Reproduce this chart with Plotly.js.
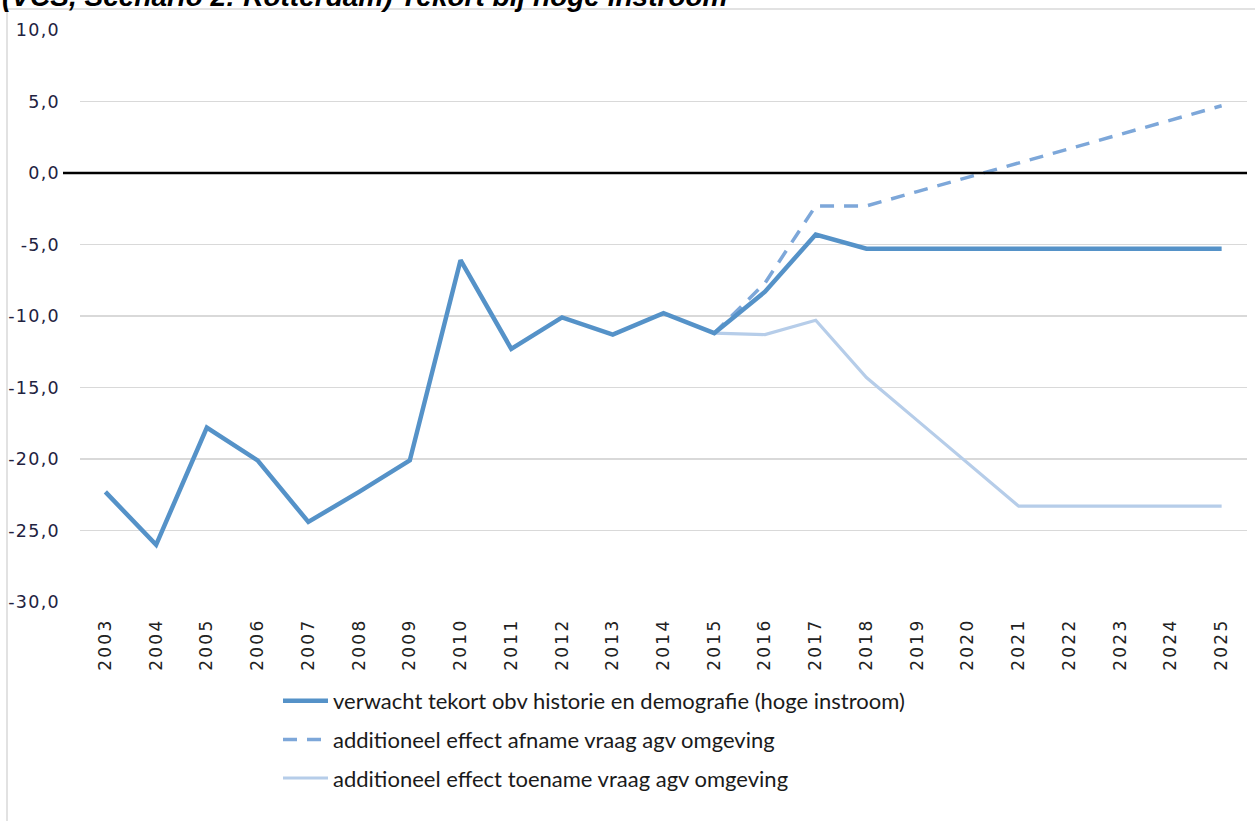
<!DOCTYPE html>
<html>
<head>
<meta charset="utf-8">
<script src="https://cdn.plot.ly/plotly-3.0.1.min.js"></script>
<style>
  html, body { margin: 0; padding: 0; background: #fff; }
  #chart { width: 1255px; height: 821px; }
  .ytick text { letter-spacing: 1.3px; }
  .xtick text { letter-spacing: 2.3px; }
</style>
</head>
<body>
<div id="chart"></div>
<script>
// Categories (years)
const years = ['2003','2004','2005','2006','2007','2008','2009','2010','2011','2012','2013','2014',
               '2015','2016','2017','2018','2019','2020','2021','2022','2023','2024','2025'];

// Series values (null where the series is not drawn)
const verwachtTekort = [-22.3, -26.0, -17.8, -20.1, -24.4, -22.3, -20.1, -6.1, -12.3, -10.1, -11.3, -9.8,
                        -11.2, -8.3, -4.3, -5.3, -5.3, -5.3, -5.3, -5.3, -5.3, -5.3, -5.3];
const afnameVraag = [null, null, null, null, null, null, null, null, null, null, null, null,
                     -11.2, -7.7, -2.3, -2.3, -1.3, -0.3, 0.7, 1.7, 2.7, 3.7, 4.7];
const toenameVraag = [null, null, null, null, null, null, null, null, null, null, null, null,
                      -11.2, -11.3, -10.3, -14.3, -17.3, -20.3, -23.3, -23.3, -23.3, -23.3, -23.3];

const seriesNames = [
  'verwacht tekort obv historie en demografie (hoge instroom)',
  'additioneel effect afname vraag agv omgeving',
  'additioneel effect toename vraag agv omgeving'
];

const yTicks = [10, 5, 0, -5, -10, -15, -20, -25, -30];
const yTickLabels = ['10,0', '5,0', '0,0', '-5,0', '-10,0', '-15,0', '-20,0', '-25,0', '-30,0'];
const titleText = '(VCS, Scenario 2: Rotterdam) Tekort bij hoge instroom';

// Layout geometry (pixels)
const W = 1255, H = 821;
const mL = 80, mR = 8, mT = 30, mB = 219;
const pw = W - mL - mR, ph = H - mT - mB;
const px = v => (v - mL) / pw;
const py = v => (H - mB - v) / ph;

const traces = [
  {
    x: years, y: toenameVraag, name: seriesNames[2], type: 'scatter', mode: 'lines',
    line: { color: '#B6CDE9', width: 3.2 }, legendrank: 3, legendgroup: 'c'
  },
  {
    x: years, y: afnameVraag, name: seriesNames[1], type: 'scatter', mode: 'lines',
    line: { color: '#7DA7D9', width: 3.5, dash: '14px,10px' }, legendrank: 2, legendgroup: 'b'
  },
  {
    x: years, y: verwachtTekort, name: seriesNames[0], type: 'scatter', mode: 'lines',
    line: { color: '#5592C8', width: 4.5 }, legendrank: 1, legendgroup: 'a'
  }
];

const layout = {
  width: W, height: H,
  margin: { l: mL, r: mR, t: mT, b: mB, pad: 0 },
  paper_bgcolor: '#ffffff', plot_bgcolor: '#ffffff',
  separators: ',.',
  showlegend: true,
  legend: {
    x: px(278), xanchor: 'left',
    y: py(680), yanchor: 'top',
    orientation: 'v',
    traceorder: 'grouped',
    tracegroupgap: 7,
    font: { family: 'Lato, "Open Sans", sans-serif', size: 22, color: '#1a1a1a' },
    bgcolor: 'rgba(0,0,0,0)', borderwidth: 0,
    itemwidth: 45
  },
  xaxis: {
    type: 'category',
    range: [-0.5, 22.5],
    showgrid: false, zeroline: false, showline: false,
    ticks: '', tickangle: -90,
    ticklabelstandoff: 12,
    tickfont: { family: '"DejaVu Sans", Verdana, sans-serif', size: 17, color: '#222222' },
    fixedrange: true
  },
  yaxis: {
    range: [-30, 10],
    tickvals: yTicks,
    ticktext: yTickLabels,
    showgrid: true, gridcolor: '#D9D9D9', gridwidth: 1.3,
    zeroline: false, showline: false, ticks: '',
    ticklabelstandoff: 19,
    tickfont: { family: '"DejaVu Sans", Verdana, sans-serif', size: 17.5, color: '#222240' },
    fixedrange: true
  },
  shapes: [
    // outer chart frame
    { type: 'rect', xref: 'paper', yref: 'paper',
      x0: px(7), x1: px(1265), y0: py(835), y1: py(9),
      line: { color: '#D9D9D9', width: 1.5 }, fillcolor: 'rgba(0,0,0,0)', layer: 'below' },
    // horizontal axis line at 0
    { type: 'line', xref: 'paper', yref: 'y',
      x0: px(63), x1: 1, y0: 0, y1: 0,
      line: { color: '#000000', width: 2.5 }, layer: 'above' }
  ],
  annotations: [
    { text: '<b><i>' + titleText + '</i></b>', xref: 'paper', yref: 'paper',
      x: px(0), xanchor: 'left', y: py(14), yanchor: 'bottom', showarrow: false,
      font: { family: '"Liberation Sans", Arial, sans-serif', size: 28, color: '#000000' } }
  ]
};

Plotly.newPlot('chart', traces, layout, { staticPlot: true, displayModeBar: false });
</script>
</body>
</html>
